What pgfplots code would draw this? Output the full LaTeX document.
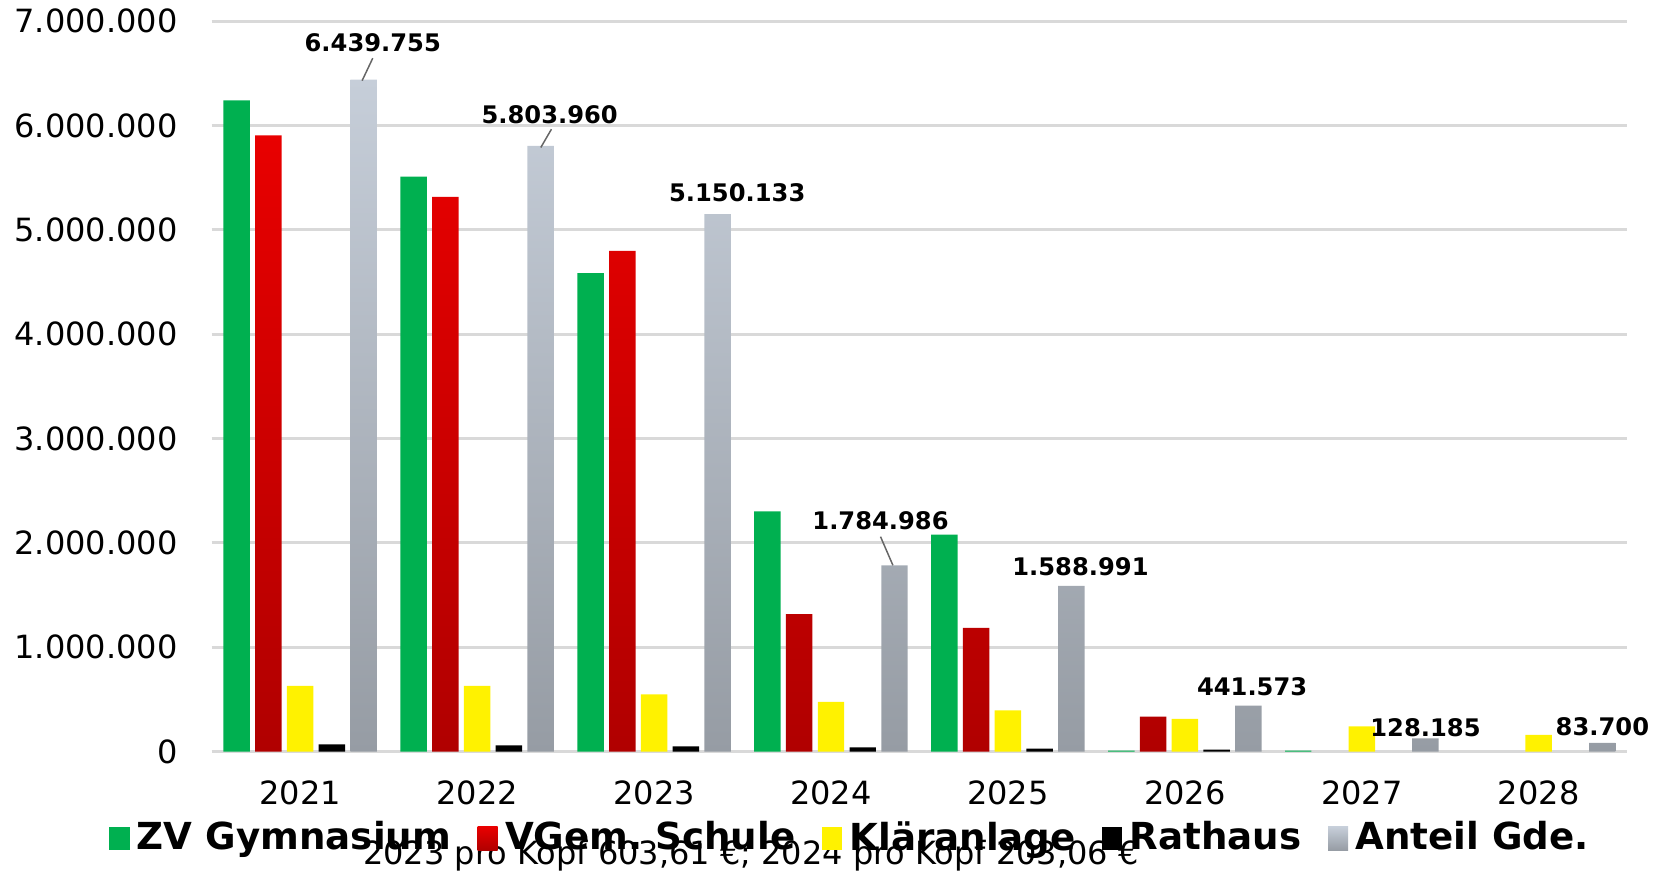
\documentclass[border=0pt]{standalone}
\usepackage{pgfplots}
\usepackage{pgfplotstable}
\pgfplotsset{compat=1.18}
\usepackage{fontspec}
\setmainfont{DejaVu Sans}

\definecolor{zvgreen}{HTML}{00B050}
\definecolor{redtop}{HTML}{E80000}
\definecolor{redbot}{HTML}{B00000}
\definecolor{greytop}{HTML}{C6CED9}
\definecolor{greybot}{HTML}{969CA4}
\definecolor{gridgrey}{HTML}{D9D9D9}

% values per year (0 = 2021 ... 7 = 2028), nan = no bar
\pgfplotstableread{
x gym schule klaer rathaus anteil
0 6240000 5905000 630000 71000 6439755
1 5510000 5316000 630000 60000 5803960
2 4586000 4800000 548000 50000 5150133
3 2303000 1319000 477000 40000 1784986
4 2080000 1187000 396000 30000 1588991
5 10000 335000 315000 20000 441573
6 10000 nan 243000 nan 128185
7 nan nan 162000 nan 83700
}\datatable

\begin{document}
\begin{tikzpicture}
\useasboundingbox (-2cm,-1.156cm) rectangle (13.68cm,7.1cm);
\begin{axis}[
  at={(0,0)}, anchor=south west,
  scale only axis,
  width=13.37cm, height=6.9cm,
  ybar=0.05cm, bar width=0.25cm,
  xmin=-0.5, xmax=7.5,
  ymin=0, ymax=7000000,
  xtick={0,...,7},
  xticklabels={2021,2022,2023,2024,2025,2026,2027,2028},
  ytick={0,1000000,...,7000000},
  scaled y ticks=false,
  /pgf/number format/fixed,
  /pgf/number format/precision=0,
  /pgf/number format/1000 sep={.},
  /pgf/number format/assume math mode=true,
  major tick length=0pt,
  axis line style={draw=none},
  ymajorgrids=true,
  grid style={gridgrey, line width=0.8pt},
  tick label style={font=\fontsize{8.6}{10}\selectfont},
  yticklabel style={xshift=-0.2cm},
  xticklabel style={yshift=-0.15cm},
  legend style={at={(0.453,-0.119)}, anchor=center, draw=none, fill=none,
    legend columns=-1, font=\bfseries\fontsize{10}{12}\selectfont,
    /tikz/every even column/.append style={column sep=0.18cm},
    inner sep=0pt},
  legend image code/.code={\path[#1, draw=none] (0cm,-0.11cm) rectangle (0.19cm,0.11cm);},
  unbounded coords=discard,
  clip=false,
]
\addplot[draw=none, fill=zvgreen] table[x=x, y=gym] {\datatable};
\addplot[draw=none, top color=redtop, bottom color=redbot] table[x=x, y=schule] {\datatable};
\addplot[draw=none, fill=yellow] table[x=x, y=klaer] {\datatable};
\addplot[draw=none, fill=black] table[x=x, y=rathaus] {\datatable};
\addplot[draw=none, top color=greytop, bottom color=greybot] table[x=x, y=anteil] {\datatable};
\legend{ZV Gymnasium, VGem.\ Schule, Kläranlage, Rathaus, Anteil Gde.}

\begin{scope}[every node/.style={font=\bfseries\fontsize{6.5}{8}\selectfont, inner sep=0pt}]
\node at (axis cs:0.41,6797000) {6.439.755};
\node at (axis cs:1.41,6107000) {5.803.960};
\node at (axis cs:2.47,5357000) {5.150.133};
\node at (axis cs:3.28,2212000) {1.784.986};
\node at (axis cs:4.41,1775000) {1.588.991};
\node at (axis cs:5.38,619000) {441.573};
\node at (axis cs:6.36,233000) {128.185};
\node at (axis cs:7.36,243000) {83.700};
\end{scope}
\draw[gray!80!black, thin] (axis cs:0.35,6430000) -- (axis cs:0.41,6645000);
\draw[gray!80!black, thin] (axis cs:1.36,5790000) -- (axis cs:1.42,5965000);
\draw[gray!80!black, thin] (axis cs:3.35,1786000) -- (axis cs:3.28,2060000);

\node[font=\fontsize{8.6}{10}\selectfont, inner sep=0pt] at (axis description cs:0.381,-0.143)
  {2023 pro Kopf 603,61 €; 2024 pro Kopf 203,06 €};
\end{axis}
\end{tikzpicture}
\end{document}
